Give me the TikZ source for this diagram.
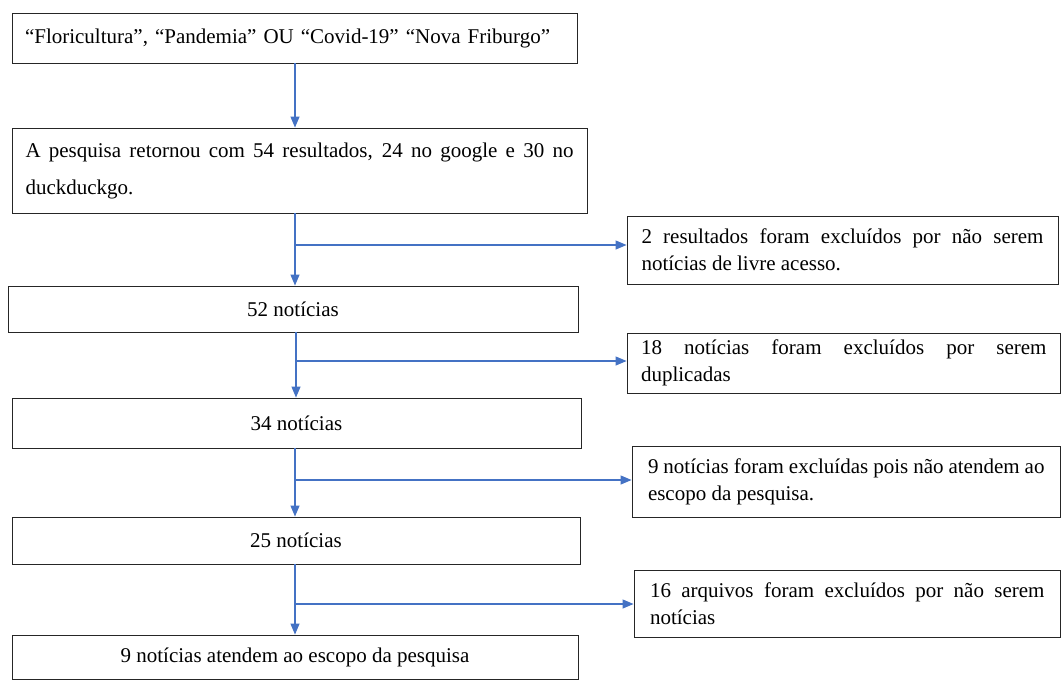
\documentclass[tikz,border=0pt]{standalone}
\usepackage{fontspec}
\setmainfont{Liberation Serif}
\usetikzlibrary{arrows.meta}
\definecolor{flowblue}{RGB}{68,114,196}
\tikzset{
  box/.style={draw=black!85, line width=0.9pt, rectangle, inner ysep=0pt, font=\fontsize{21}{27}\selectfont},
  cbox/.style={box, align=center},
  arr/.style={draw=flowblue, line width=1.1pt, -{Triangle[width=9pt,length=11pt]}},
  line/.style={draw=flowblue, line width=1.1pt}
}
\begin{document}
\begin{tikzpicture}[x=1pt,y=-1pt]
\useasboundingbox (0,0) rectangle (1061,680);
\fill[white] (0,0) rectangle (1061,680);
% main column
\node[box, align=left, minimum width=565pt, minimum height=50pt, text width=539pt, inner xsep=13pt] (top) at (294.5,38)
  {“Floricultura”, “Pandemia” OU “Covid-19” “Nova Friburgo”};
\node[box, align=justify, minimum width=575pt, minimum height=85pt, text width=548pt, inner xsep=13.5pt, font=\fontsize{21}{37}\selectfont] (b2) at (299.5,170.5)
  {A pesquisa retornou com 54 resultados, 24 no google e 30 no\linebreak duckduckgo.};
\node[cbox, minimum width=570pt, minimum height=46pt] (b52) at (293,309) {52 notícias};
\node[cbox, minimum width=569pt, minimum height=50pt] (b34) at (296.5,423) {34 notícias};
\node[cbox, minimum width=568pt, minimum height=47pt] (b25) at (296,540.5) {25 notícias};
\node[cbox, minimum width=566pt, minimum height=44pt] (bot) at (295,657) {9 notícias atendem ao escopo da pesquisa};
% side boxes
\node[box, align=justify, minimum width=431pt, minimum height=68pt, text width=402pt, inner xsep=14.5pt] (r1) at (842.5,250)
  {2 resultados foram excluídos por não serem\linebreak notícias de livre acesso.};
\node[box, align=justify, minimum width=433.5pt, minimum height=60pt, text width=405.5pt, inner xsep=14pt] (r2) at (843.75,363)
  {18 notícias foram excluídos por serem\linebreak duplicadas};
\node[box, align=justify, minimum width=428.5pt, minimum height=71pt, text width=396.5pt, inner xsep=16pt] (r3) at (846.25,481.5)
  {9 notícias foram excluídas pois não atendem ao\linebreak escopo da pesquisa.};
\node[box, align=justify, minimum width=426.5pt, minimum height=67pt, text width=394.5pt, inner xsep=16pt] (r4) at (847.25,603.5)
  {16 arquivos foram excluídos por não serem\linebreak notícias};
% connectors
\coordinate (spine) at (295,0);
\coordinate (j1) at (295,245);
\coordinate (j2) at (296,361);
\coordinate (j3) at (295,480);
\coordinate (j4) at (295,604);
\draw[arr] (top.south -| spine) -- (b2.north -| spine);
\draw[arr] (b2.south -| j1) -- (b52.north -| j1);
\draw[arr] (j1) -- (j1 -| r1.west);
\draw[arr] (b52.south -| j2) -- (b34.north -| j2);
\draw[arr] (j2) -- (j2 -| r2.west);
\draw[arr] (b34.south -| j3) -- (b25.north -| j3);
\draw[arr] (j3) -- (j3 -| r3.west);
\draw[arr] (b25.south -| j4) -- (bot.north -| j4);
\draw[arr] (j4) -- (j4 -| r4.west);
\end{tikzpicture}
\end{document}
